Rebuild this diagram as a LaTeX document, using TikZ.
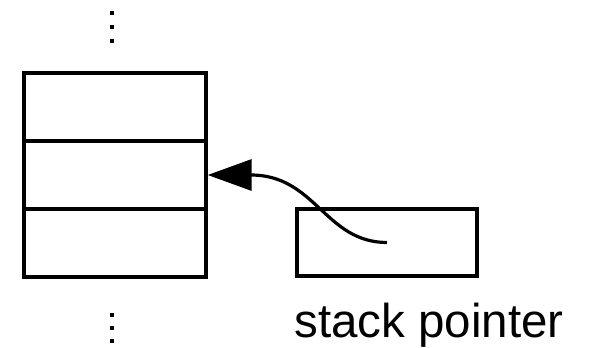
\documentclass[tikz,border=0pt]{standalone}
\usepackage{fontspec}
\setmainfont{Liberation Sans}
\usetikzlibrary{arrows.meta}
\begin{document}
\begin{tikzpicture}[x=1pt,y=-1pt,
  cell/.style={draw,line width=3.4pt,minimum width=182pt,minimum height=68pt,inner sep=0pt},
  ptrbox/.style={draw,line width=3.4pt,minimum width=180pt,minimum height=67pt,inner sep=0pt},
  dotmark/.style={fill=black,minimum size=4.8pt,inner sep=0pt,outer sep=0pt},
  label/.style={font=\fontsize{47.5}{57}\selectfont,inner sep=0pt,anchor=base}]
  \useasboundingbox (0,0) rectangle (590,348);
  % stack cells
  \node[cell] (s1) at (115,107) {};
  \node[cell] (s2) at (115,175) {};
  \node[cell] (s3) at (115,243) {};
  % continuation marks above and below
  \node[dotmark] (u1) at (112,13) {};
  \node[dotmark] (u2) at (112,27) {};
  \node[dotmark] (u3) at (112,41) {};
  \node[dotmark] (d1) at (112,315) {};
  \node[dotmark] (d2) at (112,328) {};
  \node[dotmark] (d3) at (112,341) {};
  % stack pointer register
  \node[ptrbox] (sp) at (387,242.5) {};
  \node[label] (splabel) at (429,337) {stack pointer};
  % pointer arrow
  \draw[line width=3.2pt,-{Triangle[length=44pt,width=31pt]}]
    (sp.center) .. controls +(-62,0) and +(108,0) .. (s2.east);
\end{tikzpicture}
\end{document}
